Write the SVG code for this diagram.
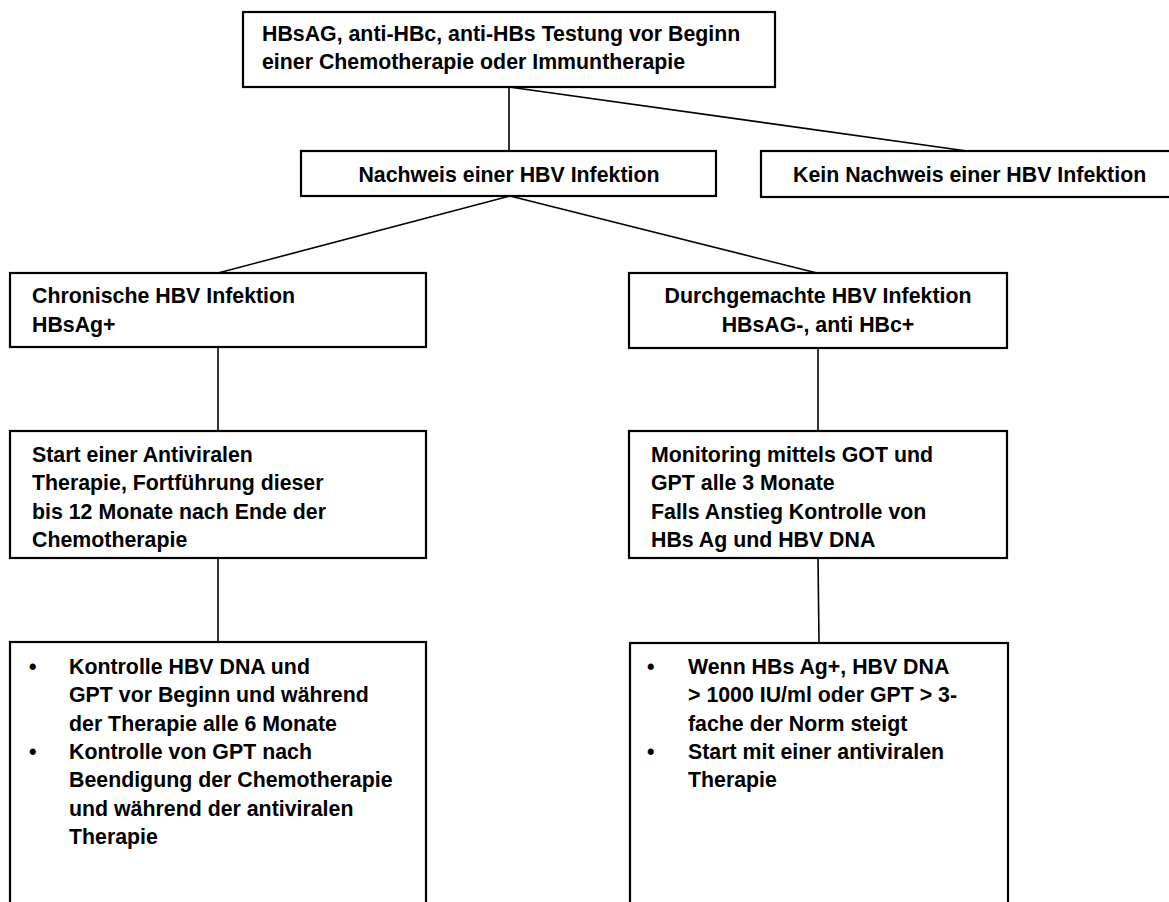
<svg xmlns="http://www.w3.org/2000/svg" width="1169" height="902" viewBox="0 0 1169 902">
<style>
.box{fill:#fff;stroke:#000;stroke-width:2.2}
.ln{stroke:#000;stroke-width:1.6;fill:none}
text{font-family:"Liberation Sans",Arial,sans-serif;font-weight:bold;font-size:21.33px;fill:#000}
.c{text-anchor:middle}
</style>
<rect width="1169" height="902" fill="#fff"/>
<g id="connectors">
<line class="ln" x1="509" y1="87" x2="509" y2="151"/>
<line class="ln" x1="509" y1="87" x2="967" y2="151"/>
<line class="ln" x1="510" y1="196" x2="218" y2="273"/>
<line class="ln" x1="510" y1="196" x2="817" y2="273"/>
<line class="ln" x1="218" y1="347" x2="218" y2="431"/>
<line class="ln" x1="818" y1="348" x2="818" y2="431"/>
<line class="ln" x1="218" y1="558" x2="218" y2="642"/>
<line class="ln" x1="818" y1="558" x2="819" y2="643"/>
</g>
<g id="n-top">
<rect class="box" x="243" y="12" width="532" height="75"/>
<text x="262" y="41">HBsAG, anti-HBc, anti-HBs Testung vor Beginn</text>
<text x="262" y="69.3">einer Chemotherapie oder Immuntherapie</text>
</g>
<g id="n-nachweis">
<rect class="box" x="301" y="151" width="415" height="45"/>
<text class="c" x="509" y="182">Nachweis einer HBV Infektion</text>
</g>
<g id="n-kein">
<rect class="box" x="761" y="151" width="420" height="46"/>
<text x="793" y="182">Kein Nachweis einer HBV Infektion</text>
</g>
<g id="n-chronisch">
<rect class="box" x="10" y="273" width="416" height="74"/>
<text x="32" y="303">Chronische HBV Infektion</text>
<text x="32" y="331.5">HBsAg+</text>
</g>
<g id="n-durch">
<rect class="box" x="629" y="273" width="378" height="75"/>
<text class="c" x="818" y="303">Durchgemachte HBV Infektion</text>
<text class="c" x="818" y="331.5">HBsAG-, anti HBc+</text>
</g>
<g id="n-start">
<rect class="box" x="10" y="431" width="416" height="127"/>
<text x="32" y="462">Start einer Antiviralen</text>
<text x="32" y="490.3">Therapie, Fortführung dieser</text>
<text x="32" y="518.6">bis 12 Monate nach Ende der</text>
<text x="32" y="546.9">Chemotherapie</text>
</g>
<g id="n-monitoring">
<rect class="box" x="629" y="431" width="378" height="127"/>
<text x="651" y="462">Monitoring mittels GOT und</text>
<text x="651" y="490.3">GPT alle 3 Monate</text>
<text x="651" y="518.6">Falls Anstieg Kontrolle von</text>
<text x="651" y="546.9">HBs Ag und HBV DNA</text>
</g>
<g id="n-kontrolle">
<rect class="box" x="10" y="642" width="416" height="280"/>
<text x="29" y="674">•</text>
<text x="69" y="674">Kontrolle HBV DNA und</text>
<text x="69" y="702.3">GPT vor Beginn und während</text>
<text x="69" y="730.6">der Therapie alle 6 Monate</text>
<text x="29" y="758.9">•</text>
<text x="69" y="758.9">Kontrolle von GPT nach</text>
<text x="69" y="787.2">Beendigung der Chemotherapie</text>
<text x="69" y="815.5">und während der antiviralen</text>
<text x="69" y="843.8">Therapie</text>
</g>
<g id="n-wenn">
<rect class="box" x="630" y="643" width="378" height="280"/>
<text x="647" y="674">•</text>
<text x="688" y="674">Wenn HBs Ag+, HBV DNA</text>
<text x="688" y="702.3">&gt; 1000 IU/ml oder GPT &gt; 3-</text>
<text x="688" y="730.6">fache der Norm steigt</text>
<text x="647" y="758.9">•</text>
<text x="688" y="758.9">Start mit einer antiviralen</text>
<text x="688" y="787.2">Therapie</text>
</g>
</svg>
